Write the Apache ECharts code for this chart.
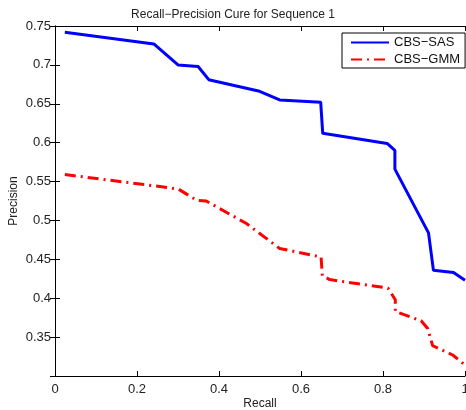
<!DOCTYPE html>
<html><head><meta charset="utf-8">
<script src="https://cdn.jsdelivr.net/npm/echarts@6/dist/echarts.min.js"></script>
<style>html,body{margin:0;padding:0;background:#fff}#c{width:466px;height:410px}</style>
</head><body><div id="c"></div>
<script>
const xTicks = [0, 0.2, 0.4, 0.6, 0.8, 1];
const yTicks = [0.35, 0.4, 0.45, 0.5, 0.55, 0.6, 0.65, 0.7, 0.75];
const recallSAS    = [0.024, 0.241, 0.300, 0.349, 0.375, 0.499, 0.548, 0.648, 0.653, 0.810, 0.829, 0.829, 0.911, 0.923, 0.972, 1.0];
const precisionSAS = [0.742, 0.727, 0.700, 0.698, 0.681, 0.666, 0.655, 0.652, 0.612, 0.599, 0.590, 0.566, 0.484, 0.436, 0.433, 0.423];
const recallGMM    = [0.024, 0.280, 0.302, 0.345, 0.369, 0.467, 0.548, 0.649, 0.652, 0.670, 0.812, 0.830, 0.830, 0.893, 0.909, 0.921, 0.970, 0.998];
const precisionGMM = [0.559, 0.542, 0.540, 0.526, 0.525, 0.496, 0.464, 0.453, 0.429, 0.424, 0.413, 0.398, 0.383, 0.371, 0.361, 0.339, 0.327, 0.315];
const seriesNames = ['CBS\u2212SAS', 'CBS\u2212GMM'];

const font = 'Liberation Sans, Arial, sans-serif';
const axisLine = {show: true, lineStyle: {color: '#000', width: 1}};
const tick = {show: true, inside: true, length: 5, lineStyle: {color: '#000'}};
const label = {color: '#222', fontSize: 13, fontFamily: font};

const chart = echarts.init(document.getElementById('c'), null, {renderer: 'canvas'});
chart.setOption({
  animation: false,
  backgroundColor: '#fff',
  title: {text: 'Recall\u2212Precision Cure for Sequence 1', left: 'center', top: 4,
    textStyle: {fontSize: 12, fontWeight: 'normal', color: '#222', fontFamily: font}},
  grid: {left: 55, right: 1, top: 26, bottom: 34, outerBoundsMode: 'none', containLabel: false},
  legend: {
    orient: 'vertical', left: 342, top: 33,
    itemWidth: 38, itemHeight: 14, itemGap: 4,
    padding: [3, 5, 2, 8],
    backgroundColor: '#fff', borderColor: '#000', borderWidth: 1, borderRadius: 0,
    itemStyle: {opacity: 0},
    textStyle: {fontSize: 13, color: '#111', fontFamily: font},
    data: seriesNames
  },
  xAxis: [
    {type: 'value', min: 0, max: 1, interval: 0.2, name: 'Recall', nameLocation: 'middle', nameGap: 22,
     nameMoveOverlap: false,
     nameTextStyle: {fontSize: 12, color: '#222', fontFamily: font},
     axisLine, axisTick: tick, axisLabel: Object.assign({margin: 7}, label), splitLine: {show: false}},
    {type: 'value', position: 'top', min: 0, max: 1, interval: 0.2,
     axisLine, axisTick: tick, axisLabel: {show: false}, splitLine: {show: false}}
  ],
  yAxis: [
    {type: 'value', min: 0.3, max: 0.75, interval: 0.05, name: 'Precision', nameLocation: 'middle', nameGap: 35,
     nameMoveOverlap: false,
     nameTextStyle: {fontSize: 12, color: '#222', fontFamily: font},
     axisLine, axisTick: tick, axisLabel: Object.assign({margin: 4, showMinLabel: false,
       formatter: v => String(+v.toFixed(2))}, label), splitLine: {show: false}},
    {type: 'value', position: 'right', min: 0.3, max: 0.75, interval: 0.05,
     axisLine, axisTick: tick, axisLabel: {show: false}, splitLine: {show: false}}
  ],
  series: [
    {name: seriesNames[0], type: 'line', showSymbol: false, symbol: 'none',
     data: recallSAS.map((x, i) => [x, precisionSAS[i]]),
     lineStyle: {color: '#0000ff', width: 3}, itemStyle: {color: '#0000ff'}},
    {name: seriesNames[1], type: 'line', showSymbol: false, symbol: 'none',
     data: recallGMM.map((x, i) => [x, precisionGMM[i]]),
     lineStyle: {color: '#ff0000', width: 3, type: [11, 5, 2, 5]}, itemStyle: {color: '#ff0000'}}
  ]
});
</script></body></html>
